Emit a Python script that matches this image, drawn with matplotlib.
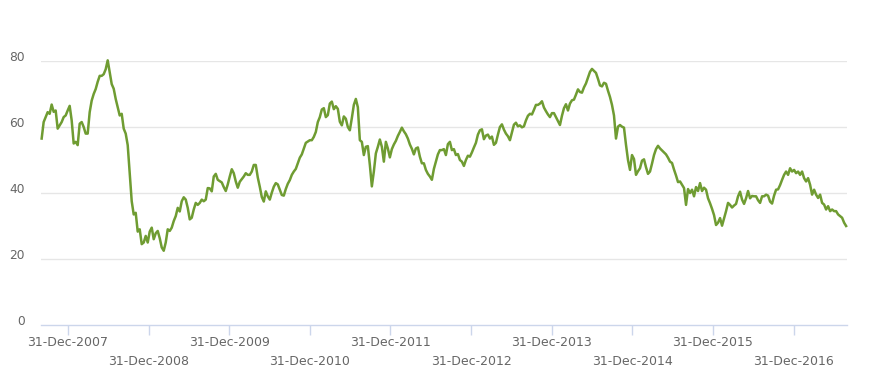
import datetime as dt
import numpy as np
import pandas as pd
import matplotlib
matplotlib.use("Agg")
import matplotlib.pyplot as plt
import matplotlib.dates as mdates
import matplotlib.transforms as mtransforms

# price readings, evenly spaced in time (about every 9 days)
vals_a = [56.5, 61.5, 63, 64.5, 64, 66.8, 64.6, 65, 59.5, 60.5,
          61.5, 63, 63.5, 65, 66.4, 62, 55, 55.5, 54.5, 61,
          61.5, 60, 58, 58, 64.5, 68, 70, 71.5, 73.7, 75.5,
          75.5, 76, 77.5, 80.2, 76.5, 73, 71.6, 68.5, 66, 63.5,
          64, 59.5, 58, 54.5, 46, 37.5, 33.5, 34, 28.3, 29]
vals_b = [24.5, 25, 27, 25, 28.3, 29.5, 26, 27.8, 28.5, 26.3,
          23.5, 22.5, 25, 29, 28.5, 29.5, 31.5, 33, 35.5, 34.4,
          37.5, 38.7, 38, 35.5, 32, 32.5, 35, 37, 36.4, 37,
          38, 37.5, 38, 41.5, 41.4, 40.5, 45, 45.8, 44, 43.6,
          43.2, 41.8, 40.6, 42.6, 45, 47.2, 46, 43.5, 41.6, 43.4]
vals_c = [44.2, 45, 46, 45.5, 45.5, 46.5, 48.5, 48.5, 44.7, 41.9,
          38.8, 37.4, 40.5, 39, 38, 40.1, 41.9, 43, 42.6, 41,
          39.4, 39.2, 41.2, 42.8, 43.9, 45.5, 46.5, 47.3, 49, 50.7,
          51.7, 53.5, 55.2, 55.6, 56, 56, 57, 58.5, 61.5, 63,
          65.3, 65.7, 63, 63.6, 67.1, 67.7, 65.4, 66.3, 65.5, 61.6]
vals_d = [60.5, 63.2, 62.5, 60, 59, 62.7, 66.7, 68.5, 66, 56,
          55.5, 51.5, 54, 54.2, 48.5, 42, 46.5, 52, 54, 56.2,
          54, 49.5, 55.5, 53.5, 50.8, 53.3, 54.7, 55.8, 57.3, 58.5,
          59.8, 58.7, 57.8, 56.5, 54.7, 53.4, 51.7, 53.5, 53.8, 51,
          49, 49, 47, 45.8, 45, 44, 47.3, 49.5, 51.7, 53]
vals_e = [53, 53.3, 51.5, 54.8, 55.5, 53, 53.3, 51.5, 51.8, 50,
          49.5, 48.2, 50, 51.3, 51, 52.3, 53.8, 55.2, 57.7, 59,
          59.3, 56.3, 57.4, 57.7, 56.5, 57.1, 54.6, 55.2, 57.7, 60,
          60.8, 59.2, 58, 57.2, 56, 58.4, 60.7, 61.3, 60.2, 60.5,
          59.9, 60.2, 62, 63.4, 64, 63.8, 65.2, 66.7, 66.7, 67.1]
vals_f = [67.8, 65.9, 64.8, 63.8, 63, 64.2, 64.2, 63, 61.8, 60.6,
          63.4, 65.7, 66.9, 65, 67.1, 68.1, 68.3, 69.8, 71.4, 70.6,
          70.4, 72, 73.2, 75, 76.7, 77.6, 77, 76.4, 74.6, 72.6,
          72.3, 73.4, 73.1, 71, 69.1, 66.7, 63.5, 56.5, 60.1, 60.6,
          60.1, 59.8, 54.6, 50, 47, 51.5, 50.3, 45.5, 46.6, 47.5]
vals_g = [49.8, 50.2, 47.8, 45.8, 46.5, 48.9, 51.5, 53.3, 54.3, 53.5,
          52.9, 52.3, 51.7, 50.7, 49.5, 49.1, 47.1, 45.3, 43.3, 43.5,
          42.5, 41.5, 36.4, 41.2, 40, 41, 39, 41.8, 40.6, 43,
          40.6, 41.6, 41, 38.4, 36.9, 35.2, 33.3, 30.3, 31, 32.4,
          30.1, 32.3, 34.5, 37, 36.4, 35.6, 36.2, 36.7, 39, 40.4]
vals_h = [38, 36.7, 38.4, 40.6, 38.4, 39.1, 39, 39, 37.8, 37,
          39, 39, 39.5, 39.2, 37.4, 36.8, 39.2, 41, 41.1, 42.4,
          44, 45.5, 46.5, 45.5, 47.5, 46.5, 47, 46, 46.5, 45.5,
          46.5, 44.5, 43.5, 44.5, 42.5, 39.5, 41, 39.5, 38.5, 39.5,
          37, 36.5, 35, 36, 34.5, 35, 34.5, 34.5, 33.5, 33,
          32.5, 31, 30]

values = vals_a + vals_b + vals_c + vals_d + vals_e + vals_f + vals_g + vals_h
dates = pd.date_range("2007-09-04", "2017-08-26", periods=len(values))

tick_years = list(range(2007, 2017))
yticks = [0, 20, 40, 60, 80]

fig = plt.figure(figsize=(8.86, 3.79), dpi=100)
ax = fig.add_axes([41 / 886, 54 / 379, 806 / 886, 264 / 379])

ax.plot(dates, values, color="#6f9c32", linewidth=1.8, clip_on=False,
        solid_joinstyle="round")

ax.set_ylim(0, 80)
ax.set_xlim(dt.datetime(2007, 9, 1), dt.datetime(2017, 8, 30))

for v in yticks[1:]:
    ax.axhline(v, color="#e6e6e6", linewidth=1, zorder=0)

for s in ["top", "right", "left"]:
    ax.spines[s].set_visible(False)
ax.spines["bottom"].set_color("#ccd6eb")
ax.spines["bottom"].set_linewidth(1)

ax.set_yticks(yticks)
ax.set_yticklabels([str(v) for v in yticks])
ax.tick_params(axis="y", length=0, pad=11.5, labelsize=8.8, labelcolor="#666666")
offset = mtransforms.ScaledTranslation(0, 5 / 100, fig.dpi_scale_trans)
for lab in ax.get_yticklabels():
    lab.set_transform(lab.get_transform() + offset)

row1 = [dt.datetime(y, 12, 31) for y in tick_years if y % 2 == 1]
row2 = [dt.datetime(y, 12, 31) for y in tick_years if y % 2 == 0]
ax.set_xticks(row1)
ax.set_xticklabels([d.strftime("%d-%b-%Y") for d in row1])
ax.set_xticks(row2, minor=True)
ax.set_xticklabels([d.strftime("%d-%b-%Y") for d in row2], minor=True)
ax.tick_params(axis="x", which="both", length=7.2, width=1, color="#ccd6eb",
               labelsize=9, labelcolor="#666666")
ax.tick_params(axis="x", which="major", pad=1)
ax.tick_params(axis="x", which="minor", pad=14.5)

fig.savefig("out.png", dpi=100)
